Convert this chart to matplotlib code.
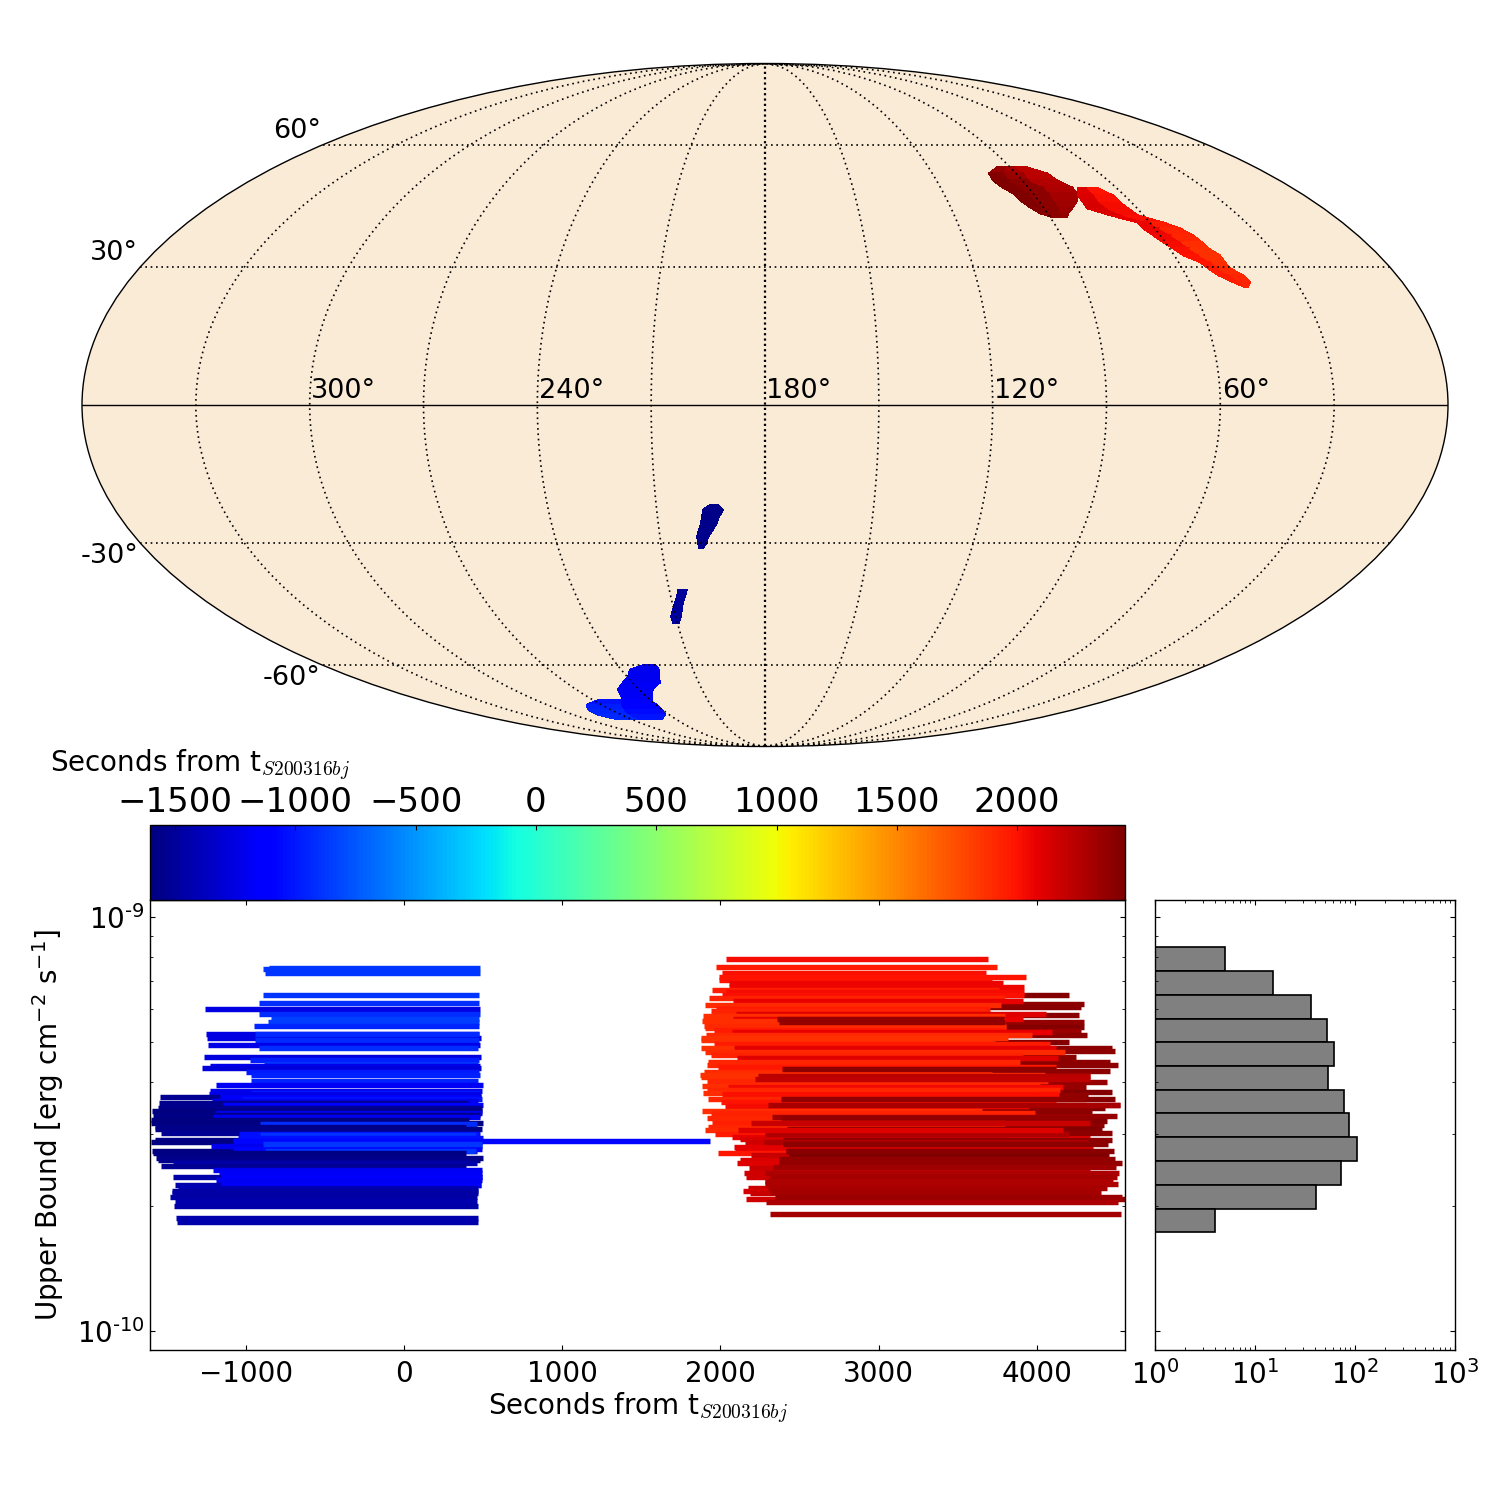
"""
Sky localisation, flux upper bounds and their histogram
"""
import numpy as np

import matplotlib
matplotlib.use("Agg")
from matplotlib import pyplot as plt
from matplotlib.cm import ScalarMappable
from matplotlib.colors import Normalize
from matplotlib.ticker import FuncFormatter, NullFormatter

# colour scale of the scan times (seconds from the trigger)
time_min, time_max = -1604, 2448
time_ticks = [-1500, -1000, -500, 0, 500, 1000, 1500, 2000]

# sky map: rows per patch, then per row the declination, RA edges of the pieces and the time of each piece
sky_patch_rows = [9, 16, 8, 6, 6, 5]
sky_dec = [53.92, 52.37, 50.58, 48.82, 47.33, 45.61, 43.92, 42.47, 41.52,
           48.57, 46.84, 45.13, 43.67, 41.99, 40.33, 38.92, 37.28, 35.66, 34.28, 32.68, 31.09, 29.74, 28.17, 26.61, 25.49,
           -21.53, -22.62, -24.17, -25.49, -27.05, -28.62, -29.96, -31.09,
           -40.81, -42.47, -43.92, -45.61, -47.33, -48.82,
           -59.80, -61.18, -63.17, -64.90, -66.98, -70.50,
           -70.07, -71.68, -73.33, -75.05, -76.83]
sky_ra = [[94.86, 91.19, 87.52, 83.85], [99.65, 93.91, 86.74, 78.85], [100.21, 94.26, 87.27, 77.82],
          [98.94, 92.78, 84.23, 74.99], [96.71, 91.00, 84.28, 75.21], [96.04, 91.10, 84.52, 77.27],
          [94.35, 89.50, 84.65, 80.45], [92.42, 89.24, 86.05, 83.51], [89.14, 87.67, 86.19, 84.72],
          [73.28, 69.87, 66.46], [75.49, 69.81, 63.80], [75.86, 70.30, 63.75], [76.19, 69.42, 62.97],
          [70.65, 66.21, 61.78], [63.95, 59.90, 55.84], [63.58, 58.34, 52.18], [62.16, 56.38, 50.01],
          [60.69, 54.99, 49.00], [58.97, 53.92, 48.58], [57.42, 52.43, 46.57], [53.80, 50.32, 46.54],
          [52.58, 49.70, 46.25], [50.93, 47.51, 43.80], [47.82, 45.56, 43.02], [45.22, 44.80, 44.38],
          [195.16, 192.95], [197.17, 191.63], [197.57, 192.83], [197.97, 193.48], [198.69, 194.72],
          [199.43, 196.28], [199.30, 196.71], [199.15, 197.99],
          [207.26, 204.44], [208.02, 205.48], [209.09, 206.50], [210.29, 207.33], [211.57, 208.21], [211.47, 209.42],
          [228.68, 224.62], [236.28, 224.19], [239.56, 226.08], [244.25, 227.51], [250.08, 233.40], [254.42, 239.74],
          [265.95, 254.49, 242.51], [277.70, 258.49, 239.28], [283.11, 261.56, 240.00],
          [284.83, 264.24, 242.40], [279.48, 264.59, 249.70]]
sky_time = [[2330, 2290, 2250], [2400, 2320, 2230], [2440, 2380, 2250], [2440, 2390, 2270], [2440, 2400, 2300],
            [2440, 2400, 2320], [2430, 2390, 2330], [2420, 2390, 2360], [2390, 2390, 2390],
            [2100, 2000], [2130, 2000], [2130, 2020], [2150, 2040], [2100, 2030], [2060, 1980], [2070, 1960],
            [2060, 1920], [2040, 1900], [2020, 1880], [2000, 1860], [1980, 1880], [1970, 1890], [1970, 1910],
            [1950, 1920], [1950, 1950],
            [-1560], [-1560], [-1560], [-1560], [-1560], [-1550], [-1550], [-1550],
            [-1500], [-1500], [-1490], [-1490], [-1480], [-1480],
            [-1200], [-1200], [-1200], [-1190], [-1190], [-1180],
            [-1050, -1150], [-1000, -1120], [-950, -1080], [-930, -1030], [-930, -1000]]

# upper bounds: log10(flux), start and end of each scan, in drawing order
blue_log_flux = [-9.122, -9.126, -9.136, -9.188, -9.207, -9.222, -9.234, -9.246, -9.254, -9.263,
                 -9.283, -9.292, -9.283, -9.297, -9.308, -9.315, -9.337, -9.345, -9.354, -9.360,
                 -9.365, -9.374, -9.382, -9.395, -9.406, -9.420, -9.424, -9.428, -9.434, -9.434,
                 -9.439, -9.443, -9.449, -9.454, -9.462, -9.468, -9.473, -9.479, -9.482, -9.490,
                 -9.497, -9.500, -9.506, -9.512, -9.522, -9.539, -9.544, -9.564, -9.524, -9.527,
                 -9.533, -9.540, -9.553, -9.560, -9.548, -9.564, -9.571, -9.581, -9.587, -9.593,
                 -9.601, -9.611, -9.619, -9.628, -9.628, -9.635, -9.646, -9.646, -9.655, -9.661,
                 -9.667, -9.677, -9.685, -9.698, -9.728, -9.736]
blue_start = [-850, -888, -876, -888, -914, -1255, -914, -838, -857, -945,
              -1249, -1242, -939, -939, -1236, -914, -1261, -971, -882, -1223,
              -1274, -996, -964, -964, -1185, -1223, -964, -1230, -1539, -1162,
              -1021, -1211, -1546, -1141, -1552, -1590, -1194, -1584, -1204, -1600,
              -1600, -909, -1571, -1571, -1535, -1571, -1600, -1590, -1044, -907,
              -1046, -1078, -1217, -1078, -888, -878, -1584, -1565, -1552, -1457,
              -1535, -1204, -1169, -1457, -1156, -1185, -1445, -1156, -1426, -1464,
              -1464, -1476, -1445, -1451, -1438, -1432]
blue_end = [481, 475, 481, 475, 475, 481, 481, 475, 475, 475,
            475, 487, 475, 475, 481, 469, 487, 475, 469, 481,
            487, 475, 481, 469, 500, 494, 481, 487, 487, 481,
            494, 469, 405, 500, 494, 494, 494, 481, 481, 412,
            500, 462, 393, 494, 456, 487, 494, 462, 481, 456,
            500, 1934, 494, 494, 494, 456, 393, 500, 481, 462,
            393, 494, 494, 494, 494, 494, 487, 487, 469, 469,
            469, 462, 462, 469, 469, 469]

red_log_flux = [-9.188, -9.209, -9.217, -9.237, -9.253, -9.265, -9.275, -9.285, -9.301, -9.315,
                -9.323, -9.339, -9.349, -9.357, -9.371, -9.384, -9.398, -9.410, -9.422, -9.430,
                -9.440, -9.453, -9.460, -9.468, -9.480, -9.493, -9.501,
                -9.101, -9.121, -9.136, -9.144, -9.151, -9.160, -9.168, -9.176, -9.180, -9.188,
                -9.195, -9.203, -9.213, -9.221, -9.226, -9.233, -9.239, -9.245, -9.251, -9.263,
                -9.267, -9.273, -9.278, -9.285, -9.291, -9.297, -9.307, -9.315, -9.317, -9.325,
                -9.333, -9.341, -9.349, -9.357, -9.361, -9.374, -9.382, -9.387, -9.395, -9.407,
                -9.411, -9.418, -9.426, -9.428, -9.440, -9.446, -9.456, -9.469, -9.474, -9.485,
                -9.245, -9.253, -9.367, -9.384, -9.453, -9.440, -9.482, -9.485,
                -9.498, -9.506, -9.515, -9.524, -9.531, -9.537, -9.543, -9.555, -9.563, -9.569,
                -9.575, -9.587, -9.595, -9.607, -9.618, -9.629, -9.639, -9.655, -9.661, -9.667, -9.680,
                -9.512, -9.522, -9.524, -9.539, -9.544, -9.548, -9.564, -9.566, -9.576, -9.577,
                -9.585, -9.593, -9.603, -9.618, -9.627, -9.637, -9.645, -9.655, -9.665, -9.675,
                -9.682, -9.689, -9.717, -9.498, -9.515, -9.390]
red_start = [2419, 2397, 2408, 2408, 2376, 2419, 2351, 2397, 2419, 2397,
             2397, 2389, 2389, 2389, 2397, 2250, 2355, 2355, 2419, 2376,
             2419, 2303, 2419, 2397, 2364, 2419, 2397,
             2035, 1972, 2010, 1991, 1991, 2056, 2056, 1947, 2035, 2010,
             1928, 2079, 1902, 1972, 1940, 2102, 1890, 2081, 1883, 1896,
             1902, 1959, 2073, 1909, 1877, 1877, 1959, 1877, 2086, 1902,
             1940, 2105, 1921, 1915, 1985, 1896, 1871, 1877, 1915, 1883,
             2050, 1915, 1890, 2010, 1921, 2003, 2029, 1883, 1940, 1915,
             2360, 2372, 2389, 2237, 2303, 2383, 2326, 2383,
             1947, 1921, 1902, 1966, 2073, 2124, 2155, 2086, 2092, 1985,
             2193, 2124, 2105, 2180, 2149, 2161, 2282, 2174, 2143, 2187, 2161,
             2419, 2397, 2282, 2397, 2275, 2397, 2414, 2414, 2435, 2435,
             2372, 2372, 2334, 2282, 2313, 2282, 2282, 2301, 2313, 2345,
             2345, 2288, 2313, 2193, 2111, 2218]
red_end = [4203, 4298, 4279, 4266, 4298, 4298, 4279, 4317, 4203, 4477,
           4494, 4247, 4462, 4513, 4462, 4336, 4443, 4311, 4475, 4323,
           4494, 4526, 4431, 4349, 4507, 4443, 4424,
           3691, 3748, 3678, 3931, 3716, 3786, 3919, 3761, 3919, 3919,
           3799, 3912, 3773, 3704, 3672, 4058, 3800, 3914, 3800, 3805,
           3805, 3800, 4096, 3969, 3817, 3735, 4083, 3900, 4121, 4178,
           3914, 4134, 3893, 3887, 4125, 3716, 4050, 4060, 4070, 4020,
           4163, 4146, 4010, 4140, 4000, 4121, 3950, 3653, 3990, 3990,
           3790, 3800, 4125, 4336, 4526, 4311, 4336, 4357,
           3800, 3800, 4165, 3800, 4336, 3800, 4323, 4357, 3800, 3800,
           4336, 3800, 3800, 4336, 4167, 4125, 4125, 4199, 3800, 4167, 4412,
           4412, 4475, 4205, 4475, 4323, 4450, 4488, 4361, 4456, 4380,
           4494, 4538, 4500, 4519, 4507, 4481, 4513, 4443, 4405, 4538,
           4557, 4513, 4532, 4336, 4165, 4336]

# histogram of the upper bounds
hist_log_edges = [-9.073, -9.130, -9.188, -9.245, -9.302, -9.360, -9.417, -9.474, -9.532, -9.589, -9.646, -9.704, -9.761]
hist_counts = [5, 15, 36, 52, 62, 54, 78, 88, 105, 72, 41, 4]

plt.rcParams.update({
    "font.family": "DejaVu Sans",
    "font.size": 20,
    "axes.linewidth": 1.0,
    "xtick.direction": "in",
    "ytick.direction": "in",
    "xtick.top": True,
    "ytick.right": True,
    "xtick.major.size": 3.5,
    "ytick.major.size": 3.5,
    "xtick.minor.size": 2,
    "ytick.minor.size": 2,
    "xtick.major.pad": 7,
    "ytick.major.pad": 4,
})

cmap = plt.get_cmap("jet")
norm = Normalize(time_min, time_max)
time_label = r"Seconds from t$_{S200316bj}$"
flux_decades = [1e-10, 1e-9]


def decade_label(value, pos):
    """Decade label with a plain hyphen in the exponent."""
    return rf"$10^{{\text{{-{abs(round(np.log10(value)))}}}}}$"


fig = plt.figure(figsize=(15, 15), dpi=100)

# [1] sky map
ax_sky = fig.add_axes([82 / 1500, 753 / 1500, 1366 / 1500, 684 / 1500], projection="mollweide")
ax_sky.set_facecolor("antiquewhite")
ax_sky.set_longitude_grid_ends(90)
ax_sky.set_xticks(np.radians([-150, -120, -90, -60, -30, 30, 60, 90, 120, 150]))
ax_sky.set_yticks(np.radians([-60, -30, 30, 60]))
ax_sky.grid(True, color="black", linestyle=(0, (1, 2.2)), linewidth=1.2, alpha=1)
ax_sky.set_xticklabels([])
ax_sky.set_yticklabels([])
ax_sky.plot(np.radians([-179.9, 179.9]), [0, 0], color="black", linewidth=1.0)
ax_sky.plot([0, 0], np.radians([-89.9, 89.9]), color="black", linestyle=(0, (1, 1.4)), linewidth=1.6)

first = 0
for n_rows in sky_patch_rows:
    for r in range(first, first + n_rows - 1):
        for k in range(len(sky_time[r])):
            lon = [sky_ra[r][k], sky_ra[r][k + 1], sky_ra[r + 1][k + 1], sky_ra[r + 1][k]]
            lat = [sky_dec[r], sky_dec[r], sky_dec[r + 1], sky_dec[r + 1]]
            ax_sky.fill(
                np.radians(180 - np.array(lon)), np.radians(lat),
                color=cmap(norm((sky_time[r][k] + sky_time[r + 1][k]) / 2)),
                linewidth=0.5,
                antialiased=False,
                zorder=1.5,
            )
    first += n_rows

for ra in [300, 240, 180, 120, 60]:
    ax_sky.annotate(f"{ra}°", xy=(np.radians(180 - ra), 0), xytext=(1, 1), textcoords="offset points",
                    ha="left", va="bottom", fontsize=19.5)
for label, x, y in [("60°", 321, 131), ("30°", 138, 253), ("-30°", 138, 556), ("-60°", 321, 678)]:
    fig.text(x / 1500, 1 - y / 1500, label, ha="right", va="center", fontsize=19.5)

# [2] upper bounds ~ time
ax_main = fig.add_axes([150 / 1500, 150 / 1500, 975 / 1500, 450 / 1500])
for log_flux, start, end in [(blue_log_flux, blue_start, blue_end), (red_log_flux, red_start, red_end)]:
    ax_main.hlines(
        np.power(10.0, log_flux), start, end,
        colors=cmap(norm(np.array(start))),
        linewidth=3.9,
    )
ax_main.set_yscale("log")
ax_main.set_xlim(-1605, 4558)
ax_main.set_yticks(flux_decades)
ax_main.set_ylim(9e-11, 1.1e-9)
ax_main.set_xticks([-1000, 0, 1000, 2000, 3000, 4000])
ax_main.yaxis.set_major_formatter(FuncFormatter(decade_label))
ax_main.yaxis.set_minor_formatter(NullFormatter())
ax_main.set_xlabel(time_label, fontsize=20, math_fontfamily="cm", labelpad=2.5)
ax_main.set_ylabel(r"Upper Bound [erg cm$^{-2}$ s$^{-1}$]", fontsize=20)
ax_main.yaxis.set_label_coords(-0.0865, 0.5)

# [3] colour bar on top of the scans
ax_bar = fig.add_axes([150 / 1500, 600 / 1500, 975 / 1500, 75 / 1500])
cbar = fig.colorbar(ScalarMappable(norm=norm, cmap=cmap), cax=ax_bar, orientation="horizontal", ticks=time_ticks)
ax_bar.xaxis.set_ticks_position("top")
ax_bar.tick_params(labelsize=24.5, length=3.5, direction="in", pad=4)
fig.text(50 / 1500, 1 - 765 / 1500, time_label, ha="left", va="center", fontsize=20, math_fontfamily="cm")

# [4] histogram
ax_hist = fig.add_axes([1155 / 1500, 150 / 1500, 300 / 1500, 450 / 1500])
hist_edges = np.power(10.0, hist_log_edges)
ax_hist.barh(
    hist_edges[1:], np.array(hist_counts) - 1, height=hist_edges[:-1] - hist_edges[1:], left=1,
    align="edge", color="gray", edgecolor="black", linewidth=1.2,
)
ax_hist.set_xscale("log")
ax_hist.set_yscale("log")
ax_hist.set_xlim(1, 1000)
ax_hist.set_yticks(flux_decades)
ax_hist.set_ylim(9e-11, 1.1e-9)
ax_hist.yaxis.set_major_formatter(NullFormatter())
ax_hist.yaxis.set_minor_formatter(NullFormatter())

fig.savefig("out.png", dpi=100)
